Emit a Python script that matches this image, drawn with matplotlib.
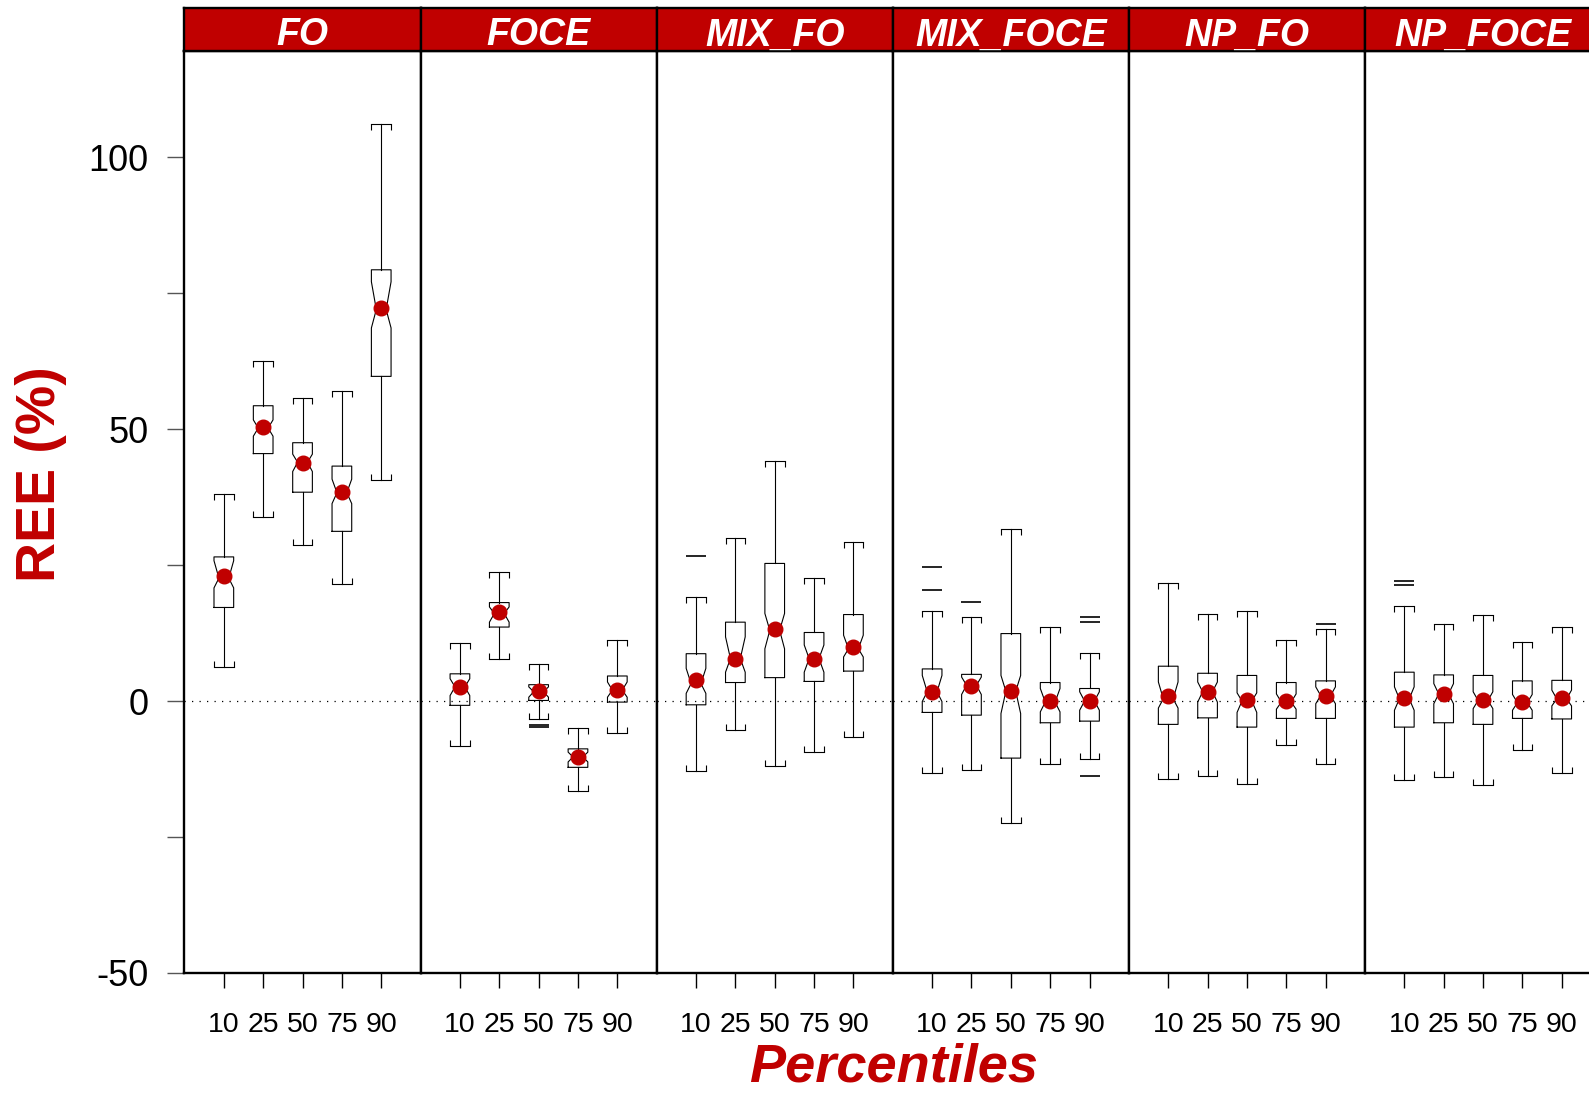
import numpy as np
import matplotlib
matplotlib.use("Agg")
import matplotlib.pyplot as plt
from matplotlib.path import Path

plt.rcParams['font.family'] = ['Liberation Sans', 'DejaVu Sans']

RED = '#C00000'

methods = ["FO", "FOCE", "MIX_FO", "MIX_FOCE", "NP_FO", "NP_FOCE"]
percentiles = ["10", "25", "50", "75", "90"]

# per method, one value per percentile group
whisker_hi = [[38.0, 62.6, 55.7, 57.1, 106.2],
              [10.7, 23.8, 6.8, -4.9, 11.2],
              [19.2, 29.9, 44.2, 22.7, 29.3],
              [16.6, 15.4, 31.6, 13.6, 8.9],
              [21.7, 16.0, 16.6, 11.3, 13.2],
              [17.4, 14.1, 15.9, 10.8, 13.6]]
q3 = [[26.5, 54.3, 47.5, 43.2, 79.3],
      [5.0, 18.1, 3.0, -8.8, 4.6],
      [8.7, 14.5, 25.3, 12.6, 15.9],
      [5.9, 4.9, 12.4, 3.4, 2.3],
      [6.4, 5.1, 4.7, 3.4, 3.7],
      [5.3, 4.8, 4.7, 3.7, 3.8]]
notch_hi = [[25.8, 51.7, 45.4, 40.8, 77.1],
            [4.1, 17.3, 2.6, -9.4, 3.5],
            [6.0, 11.8, 16.1, 10.3, 12.1],
            [4.7, 4.4, 4.7, 2.3, 1.7],
            [3.5, 3.5, 1.5, 1.3, 2.6],
            [2.6, 3.2, 1.7, 1.2, 2.0]]
median = [[22.6, 50.2, 43.9, 38.3, 72.0],
          [2.6, 16.1, 1.7, -10.3, 2.0],
          [3.2, 7.8, 13.0, 7.8, 9.6],
          [1.7, 2.9, 1.8, -0.2, 0.0],
          [0.4, 1.7, 0.0, -0.2, 1.0],
          [0.4, 1.3, 0.1, -0.3, 0.4]]
notch_lo = [[20.8, 48.7, 42.2, 36.3, 68.6],
            [1.0, 14.5, 0.7, -11.2, 0.7],
            [1.4, 5.3, 9.6, 5.3, 8.1],
            [-0.1, 1.2, -2.3, -2.0, -1.7],
            [-1.3, -0.2, -2.1, -1.5, -0.5],
            [-1.7, -0.5, -1.4, -1.7, -0.9]]
q1 = [[17.2, 45.5, 38.4, 31.2, 59.7],
      [-0.8, 13.6, 0.1, -12.2, -0.2],
      [-0.7, 3.4, 4.3, 3.6, 5.5],
      [-2.1, -2.6, -10.5, -4.0, -3.7],
      [-4.3, -3.1, -4.8, -3.2, -3.2],
      [-4.8, -4.0, -4.3, -3.2, -3.3]]
whisker_lo = [[6.2, 33.9, 28.7, 21.5, 40.6],
              [-8.2, 7.8, -3.4, -16.6, -5.8],
              [-12.8, -5.3, -12.0, -9.3, -6.6],
              [-13.2, -12.7, -22.5, -11.6, -10.6],
              [-14.4, -13.7, -15.2, -8.1, -11.6],
              [-14.6, -14.0, -15.5, -9.0, -13.3]]
means = [[23.0, 50.3, 43.8, 38.5, 72.2],
         [2.6, 16.3, 1.8, -10.3, 2.0],
         [3.8, 7.8, 13.2, 7.7, 9.9],
         [1.6, 2.8, 1.8, 0.0, 0.0],
         [0.9, 1.6, 0.2, 0.0, 0.9],
         [0.5, 1.3, 0.1, -0.2, 0.6]]
outliers = [[[], [], [], [], []],
            [[], [], [-4.4, -4.7], [], []],
            [[26.7], [], [], [], []],
            [[24.6, 20.5], [18.2], [], [], [15.5, 14.5, -13.8]],
            [[], [], [], [], [14.2]],
            [[22.1, 21.4], [], [], [], []]]

# R style bracket caps: short ticks pointing back toward the box
tick_down = Path([(0, 0), (0, -1)], [Path.MOVETO, Path.LINETO])
tick_up = Path([(0, 0), (0, 1)], [Path.MOVETO, Path.LINETO])

fig = plt.figure(figsize=(15.89, 10.94), dpi=100)

left0 = 0.1161
pw = 0.14858
bottom = 0.1107
height = 0.8430
strip_h = 0.0389

positions = np.arange(1, len(percentiles) + 1)

for i, m in enumerate(methods):
    ax = fig.add_axes([left0 + i * pw, bottom, pw, height])
    stats = []
    for j, p in enumerate(percentiles):
        stats.append(dict(label=p, med=median[i][j], q1=q1[i][j], q3=q3[i][j],
                          whislo=whisker_lo[i][j], whishi=whisker_hi[i][j],
                          cilo=notch_lo[i][j], cihi=notch_hi[i][j],
                          mean=means[i][j], fliers=np.array(outliers[i][j])))
    res = ax.bxp(stats, positions=positions, widths=0.5, capwidths=0.5,
                 shownotches=True, showmeans=True, patch_artist=False,
                 boxprops=dict(color='black', lw=0.8),
                 whiskerprops=dict(color='black', lw=0.8),
                 capprops=dict(color='black', lw=0.8),
                 medianprops=dict(color='black', lw=0.0),
                 meanprops=dict(marker='o', markerfacecolor=RED,
                                markeredgecolor=RED, markersize=10.5),
                 flierprops=dict(marker='_', markeredgecolor='black',
                                 markersize=15, markeredgewidth=1.2))
    for k, cap in enumerate(res['caps']):
        cap.set_marker(tick_up if k % 2 == 0 else tick_down)
        cap.set_markersize(8)
        cap.set_markeredgecolor('black')
        cap.set_markeredgewidth(0.8)

    ax.axhline(0, color='black', lw=0.9, ls=(0, (1, 5)), zorder=0)
    ax.set_xlim(0, 6)
    ax.set_ylim(-50, 119.6)
    ax.set_xticks(positions)
    ax.set_xticklabels(percentiles)
    ax.tick_params(axis='x', direction='out', length=11, width=1,
                   pad=17, labelsize=20.5)
    for s in ax.spines.values():
        s.set_linewidth(1.7)
    if i == 0:
        ax.set_yticks([-50, -25, 0, 25, 50, 75, 100])
        ax.set_yticklabels(['-50', '', '0', '', '50', '', '100'])
        ax.tick_params(axis='y', direction='out', length=12, width=1,
                       color='#555555', pad=14, labelsize=26)
    else:
        ax.set_yticks([])

    # strip header
    sax = fig.add_axes([left0 + i * pw, bottom + height, pw, strip_h])
    sax.set_facecolor(RED)
    sax.set_xticks([])
    sax.set_yticks([])
    for s in sax.spines.values():
        s.set_linewidth(1.7)
    sax.text(0.5, 0.36, m, transform=sax.transAxes, ha='center', va='center',
             color='white', fontsize=27, fontweight='bold', style='italic')

fig.text(0.0255, 0.567, 'REE (%)', rotation=90, ha='center', va='center',
         color=RED, fontsize=40, fontweight='bold')
fig.text(0.5625, 0.0245, 'Percentiles', ha='center', va='center',
         color=RED, fontsize=39, fontweight='bold', style='italic')

fig.savefig('out.png', dpi=100)
